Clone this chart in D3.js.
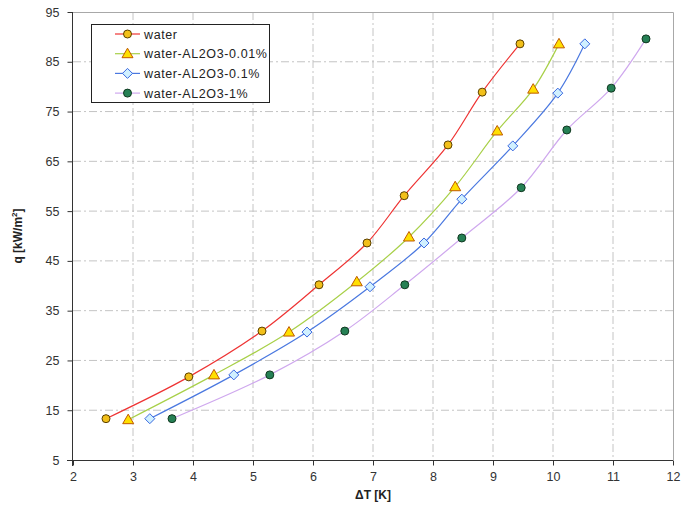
<!DOCTYPE html>
<html><head><meta charset="utf-8">
<script src="https://cdn.jsdelivr.net/npm/d3@7"></script>
<style>body{margin:0;background:#fff}svg{display:block}text{font-family:"Liberation Sans",Arial,sans-serif}</style>
</head><body><svg id="c" width="685" height="512"></svg>
<script>
const xTicks = [2,3,4,5,6,7,8,9,10,11,12];
const yTicks = [5,15,25,35,45,55,65,75,85,95];
const seriesNames = ["water","water-AL2O3-0.01%","water-AL2O3-0.1%","water-AL2O3-1%"];
const dT_water = [2.55,3.93,5.15,6.10,6.90,7.52,8.25,8.82,9.45];
const q_water  = [13.3,21.7,30.9,40.2,48.6,58.1,68.3,78.9,88.6];
const dT_001 = [2.92,4.35,5.60,6.73,7.60,8.37,9.07,9.67,10.10];
const q_001  = [13.1,22.1,30.7,40.8,49.8,59.9,71.1,79.5,88.6];
const dT_01 = [3.28,4.68,5.90,6.95,7.85,8.48,9.33,10.08,10.53];
const q_01  = [13.3,22.1,30.7,39.8,48.6,57.4,68.1,78.7,88.6];
const dT_1 = [3.65,5.28,6.53,7.53,8.48,9.47,10.23,10.97,11.55];
const q_1  = [13.3,22.1,30.9,40.2,49.6,59.7,71.3,79.7,89.6];

const svg = d3.select("#c");
const X0=73, X1=673, Y0=12, Y1=460;
const x = d3.scaleLinear().domain([2,12]).range([X0,X1]);
const y = d3.scaleLinear().domain([5,95]).range([Y1,Y0]);

const g = svg.append("g");
g.selectAll(".vg").data(xTicks.slice(1,-1)).enter().append("line")
  .attr("x1",d=>x(d)).attr("x2",d=>x(d)).attr("y1",Y0).attr("y2",Y1)
  .attr("stroke","#c4c4c4").attr("stroke-dasharray","8,3,2,3");
g.selectAll(".hg").data(yTicks.slice(1,-1)).enter().append("line")
  .attr("y1",d=>y(d)).attr("y2",d=>y(d)).attr("x1",X0).attr("x2",X1)
  .attr("stroke","#c4c4c4").attr("stroke-dasharray","8,3,2,3");
svg.append("path").attr("d",`M${X0},${Y0+0.5}H${X1+0.5}V${Y1}`).attr("fill","none").attr("stroke","#a8a8a8");

const xa = svg.append("g").attr("transform",`translate(0,${Y1+0.5})`)
  .call(d3.axisBottom(x).tickValues(xTicks).tickSize(5).tickPadding(7).tickFormat(d3.format("d")));
const ya = svg.append("g").attr("transform",`translate(${X0-0.5},0)`)
  .call(d3.axisLeft(y).tickValues(yTicks).tickSize(5).tickPadding(8).tickFormat(d3.format("d")));
[xa,ya].forEach(a=>{
  a.select(".domain").attr("stroke","#333");
  a.selectAll(".tick line").attr("stroke","#333");
  a.selectAll("text").attr("font-size",12.5).attr("fill","#333").attr("font-family","Liberation Sans, Arial");
});
xa.select(".domain").attr("d",`M${X0-6},0H${X1}`);
ya.select(".domain").attr("d",`M0,${Y0}V${Y1+6}`);

svg.append("text").attr("x",(X0+X1)/2).attr("y",499).attr("text-anchor","middle")
  .attr("font-size",12).attr("font-weight","bold").attr("fill","#222").text("ΔT [K]");
const yl = svg.append("text").attr("transform",`translate(22,${(Y0+Y1)/2}) rotate(-90)`)
  .attr("text-anchor","middle").attr("font-size",12).attr("font-weight","bold").attr("fill","#222");
yl.append("tspan").text("q [kW/m");
yl.append("tspan").attr("font-size",8).attr("dy",-5).text("2");
yl.append("tspan").attr("dy",5).text("]");

const series = [
  {xs:dT_water, ys:q_water, line:"#ee3333", shape:"circle", fill:"#f2c01a", stroke:"#5a4000"},
  {xs:dT_001, ys:q_001, line:"#a8d048", shape:"triangle", fill:"#ffe000", stroke:"#c05a00"},
  {xs:dT_01, ys:q_01, line:"#4a78e0", shape:"diamond", fill:"#d0f0ff", stroke:"#3a68e0"},
  {xs:dT_1, ys:q_1, line:"#cfa8ee", shape:"circle", fill:"#268055", stroke:"#103820"}
];
const lineGen = d3.line().x(d=>x(d[0])).y(d=>y(d[1])).curve(d3.curveCatmullRom.alpha(0.5));
function marker(sel, s, cx, cy){
  if(s.shape==="circle") sel.append("circle").attr("cx",cx).attr("cy",cy).attr("r",4)
      .attr("fill",s.fill).attr("stroke",s.stroke).attr("stroke-width",1);
  else if(s.shape==="triangle") sel.append("path").attr("d",`M${cx},${cy-5.5}L${cx+5.5},${cy+4}L${cx-5.5},${cy+4}Z`)
      .attr("fill",s.fill).attr("stroke",s.stroke).attr("stroke-width",1);
  else sel.append("path").attr("d",`M${cx},${cy-5}L${cx+5},${cy}L${cx},${cy+5}L${cx-5},${cy}Z`)
      .attr("fill",s.fill).attr("stroke",s.stroke).attr("stroke-width",1);
}
series.forEach(s=>{
  const pts = s.xs.map((v,i)=>[v,s.ys[i]]);
  svg.append("path").datum(pts).attr("d",lineGen).attr("fill","none").attr("stroke",s.line).attr("stroke-width",1.2);
});
series.forEach(s=>{
  const gm = svg.append("g");
  s.xs.forEach((v,i)=>marker(gm,s,x(v),y(s.ys[i])));
});

const lg = svg.append("g");
lg.append("rect").attr("x",91.5).attr("y",24.5).attr("width",178).attr("height",78)
  .attr("fill","#fff").attr("stroke","#222");
seriesNames.forEach((n,i)=>{
  const cy = 34 + i*19.7, s = series[i];
  lg.append("line").attr("x1",115).attr("x2",140).attr("y1",cy).attr("y2",cy).attr("stroke",s.line).attr("stroke-width",1.2);
  marker(lg,s,127.5,cy);
  lg.append("text").attr("x",144).attr("y",cy+4.5).attr("font-size",12.5).attr("letter-spacing",0.6)
    .attr("fill","#222").text(n);
});
</script></body></html>
